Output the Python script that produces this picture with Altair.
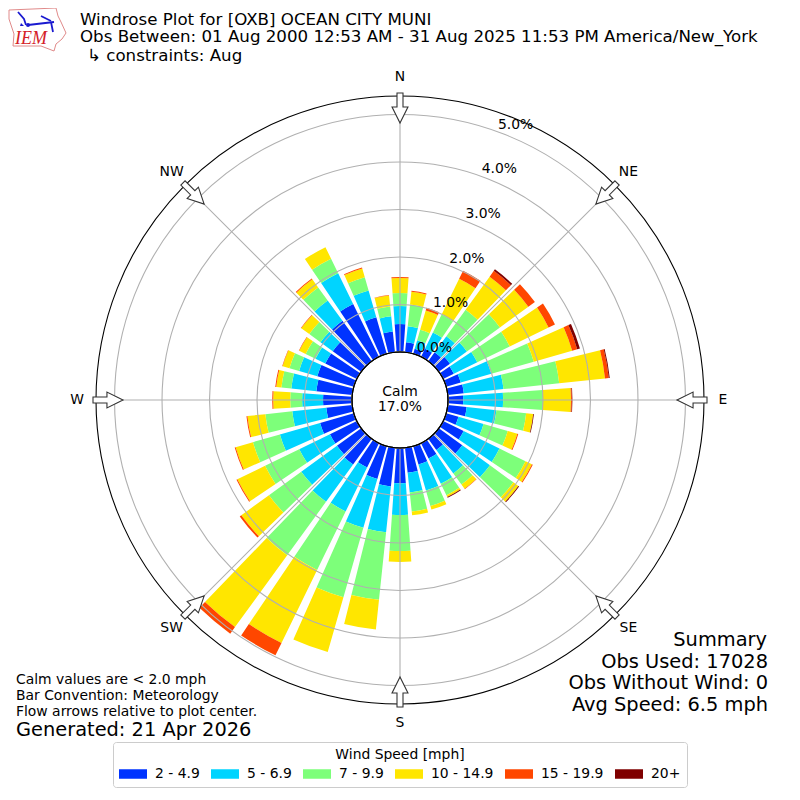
import math
import urllib.parse
import altair as alt
import pandas as pd

FONT = "DejaVu Sans"
directions = list(range(0, 360, 10))
speed_names = ["2 - 4.9", "5 - 6.9", "7 - 9.9", "10 - 14.9", "15 - 19.9", "20+"]
speed_colors = ["#0033ff", "#00d4ff", "#7dff7a", "#ffe600", "#ff4700", "#7f0000"]

blue = [.59,.21,.11,.19,.23,.29,.25,.32,.34,.32,.40,.27,.48,.61,.29,.36,.40,.53,.74,.82,.72,.57,.67,.63,.63,.74,.55,.61,.76,.80,.74,.74,1.05,1.24,.80,.44]
cyan = [.38,.34,.19,.38,.42,.44,.55,.67,.84,.84,.63,.55,.84,.72,.61,.59,.57,.42,.67,.97,1.07,1.03,.97,.93,.72,.88,.72,.44,.53,.40,.23,.32,.53,.72,.59,.32]
green = [.27,.46,.23,.42,.69,.86,.76,.93,1.18,.84,.63,.53,.61,.61,.29,.27,.34,.40,.76,1.43,1.52,1.37,1.39,.84,.80,.59,.57,.25,.21,.21,.23,.29,.34,.34,.29,.21]
yellow = [.32,.27,.42,.84,.86,.74,.91,.84,.97,.59,.15,.21,.15,.13,.11,.04,.08,.08,.23,.63,1.20,1.71,1.87,.72,.65,.38,.38,.36,.11,.15,.15,.21,.21,.27,.19,.23]
orange = [.02,.02,.06,.19,.15,.17,.15,.11,.08,.02,0,.02,.02,0,.01,0,0,0,0,0,0,.29,.17,.04,.02,.02,.02,.02,.02,.01,.01,.01,.02,0,.02,.01]
dark = [0,0,0,0,.04,0,0,.06,.02,.01,.015,0,0,.02,0,.02,0,0,0,0,0,0,0,0,0,0,0,0,0,0,0,0,0,0,0,0]
series = [blue, cyan, green, yellow, orange, dark]

ring_values = [1, 2, 3, 4, 5]
ring_labels = ["0.0%", "1.0%", "2.0%", "3.0%", "4.0%", "5.0%"]
label_values = [0, 1, 2, 3, 4, 5]
grid_angles = [0, 45, 90, 135, 180, 225, 270, 315]
compass = ["N", "NE", "E", "SE", "S", "SW", "W", "NW"]
R_MAX = 5.39
LABEL_R = 5.79
BAR_W = 8

rows = []
for i, d in enumerate(directions):
    base = 0.0
    for name, s in zip(speed_names, series):
        v = s[i]
        if v > 0:
            rows.append(dict(speed=name, t0=d - BAR_W / 2, t1=d + BAR_W / 2, r0=base, r1=base + v))
        base += v
bars_df = pd.DataFrame(rows)

T = alt.Scale(domain=[0, 360], range=[0, 2 * math.pi])
Rs = alt.Scale(domain=[0, R_MAX], range=[48, 304], zero=False, nice=False)

bars = alt.Chart(bars_df).mark_arc(stroke=None).encode(
    theta=alt.Theta("t0:Q", scale=T, stack=None),
    theta2="t1:Q",
    radius=alt.Radius("r1:Q", scale=Rs),
    radius2="r0:Q",
    color=alt.Color(
        "speed:N",
        scale=alt.Scale(domain=speed_names, range=speed_colors),
        sort=speed_names,
        legend=alt.Legend(
            title="Wind Speed [mph]", orient="none", legendX=105, legendY=734,
            direction="horizontal", columns=6, columnPadding=11,
            symbolType="M-1,-0.34H1V0.34H-1Z", symbolSize=784, symbolStrokeWidth=0,
            clipHeight=14,
            labelFont=FONT, labelFontSize=13.9, titleFont=FONT, titleFontSize=13.9,
            titleFontWeight="normal", titleAnchor="middle", titleLimit=300, titlePadding=5,
            labelColor="black", titleColor="black",
            strokeColor="#cccccc", fillColor="white", cornerRadius=3, padding=6,
            labelOffset=8,
        ),
    ),
)


def rings(values, color):
    df = pd.DataFrame({"r": values, "t0": [0] * len(values), "t1": [360] * len(values)})
    return alt.Chart(df).mark_arc(fillOpacity=0, stroke=color, strokeWidth=1.1).encode(
        theta=alt.Theta("t0:Q", scale=T, stack=None), theta2="t1:Q",
        radius=alt.Radius("r:Q", scale=Rs),
    )


grid_df = pd.DataFrame({"a": grid_angles, "r0": [0] * 8, "r1": [R_MAX] * 8})
spokes = alt.Chart(grid_df).mark_arc(fillOpacity=0, stroke="#b0b0b0", strokeWidth=1.1).encode(
    theta=alt.Theta("a:Q", scale=T, stack=None), theta2="a:Q",
    radius=alt.Radius("r1:Q", scale=Rs), radius2="r0:Q",
)

ARROW = "M-0.2,-1L0.2,-1L0.2,-0.07L0.53,-0.07L0,1L-0.53,-0.07L-0.2,-0.07Z"
ARROW_R = 292
arrow_df = pd.DataFrame({
    "x": [ARROW_R * math.sin(math.radians(a)) for a in grid_angles],
    "y": [ARROW_R * math.cos(math.radians(a)) for a in grid_angles],
    "a": grid_angles,
})
arrows = alt.Chart(arrow_df).mark_point(
    shape=ARROW, size=900, filled=True, fill="white", stroke="#333333", strokeWidth=1.1, opacity=1
).encode(
    x=alt.X("x:Q", scale=alt.Scale(domain=[-392, 392], range=[0, 784]), axis=None),
    y=alt.Y("y:Q", scale=alt.Scale(domain=[-392, 392], range=[784, 0]), axis=None),
    angle=alt.Angle("a:Q", scale=None),
)

ring_text = alt.Chart(pd.DataFrame({"r": label_values, "t": ring_labels, "a": [20] * 6})).mark_text(
    font=FONT, fontSize=13.9, color="black", dx=18, dy=-7
).encode(
    theta=alt.Theta("a:Q", scale=T, stack=None),
    radius=alt.Radius("r:Q", scale=Rs),
    text="t:N",
)

compass_text = alt.Chart(pd.DataFrame({"a": grid_angles, "t": compass, "r": [LABEL_R] * 8})).mark_text(
    font=FONT, fontSize=13.9, color="black"
).encode(
    theta=alt.Theta("a:Q", scale=T, stack=None),
    radius=alt.Radius("r:Q", scale=Rs),
    text="t:N",
)


def label(text, x, y, size, align="left", color="black", font=FONT, style="normal"):
    return alt.Chart(pd.DataFrame({"t": [text]})).mark_text(
        font=font, fontSize=size, align=align, baseline="middle", color=color, fontStyle=style
    ).encode(x=alt.value(x - 8), y=alt.value(y - 8), text="t:N")


texts = [
    label("Windrose Plot for [OXB] OCEAN CITY MUNI", 80, 20, 16.67),
    label("Obs Between: 01 Aug 2000 12:53 AM - 31 Aug 2025 11:53 PM America/New_York", 80, 37, 16.67),
    label("\u21b3 constraints: Aug", 87, 56, 16.67),
    label("Calm", 400, 392, 13.9, "center"),
    label("17.0%", 400, 407, 13.9, "center"),
    label("Summary", 767, 640, 19.4, "right"),
    label("Obs Used: 17028", 768, 662, 19.4, "right"),
    label("Obs Without Wind: 0", 768, 683, 19.4, "right"),
    label("Avg Speed: 6.5 mph", 768, 705, 19.4, "right"),
    label("Calm values are < 2.0 mph", 16, 680, 13.9),
    label("Bar Convention: Meteorology", 16, 696, 13.9),
    label("Flow arrows relative to plot center.", 16, 712, 13.9),
    label("Generated: 21 Apr 2026", 16, 730, 19.4),
    label("IEM", 15, 39, 18, color="#d42027", font="Liberation Serif", style="italic"),
]

logo_svg = (
    "<svg xmlns='http://www.w3.org/2000/svg' width='66' height='52' viewBox='0 0 66 52'>"
    "<g transform='translate(-7,-7)'>"
    "<path d='M8 9L55 7L57 15L60 21L65 32L61 38L55 43L53 50L40 45L12 45L13 33L8 18Z' "
    "fill='white' stroke='#e08a8a' stroke-width='1'/>"
    "<path d='M27 24L53 21' stroke='#1a1ad0' stroke-width='2.2' fill='none'/>"
    "<path d='M17 11L23 18L25 24M40 15L50 20M50 21L52 31' stroke='#1a1ad0' stroke-width='1.8' fill='none'/>"
    "<path d='M20 22L23 25L19 25Z' fill='#1a1ad0'/>"
    "<circle cx='27' cy='24' r='2' fill='#1a1ad0'/>"
    "</g></svg>"
)
logo = alt.Chart(pd.DataFrame({"u": ["data:image/svg+xml," + urllib.parse.quote(logo_svg)]})).mark_image(
    width=66, height=52, align="left", baseline="top"
).encode(x=alt.value(0), y=alt.value(0), url="u:N")

chart = alt.layer(
    bars, rings(ring_values, "#b0b0b0"), spokes, rings([0, R_MAX], "black"),
    arrows, ring_text, compass_text, logo, *texts
).properties(
    width=784, height=784, padding=0, background="white",
    autosize=alt.AutoSizeParams(type="none"),
).configure_view(stroke=None)

chart.save("out.html", embed_options={"renderer": "svg", "actions": False})
